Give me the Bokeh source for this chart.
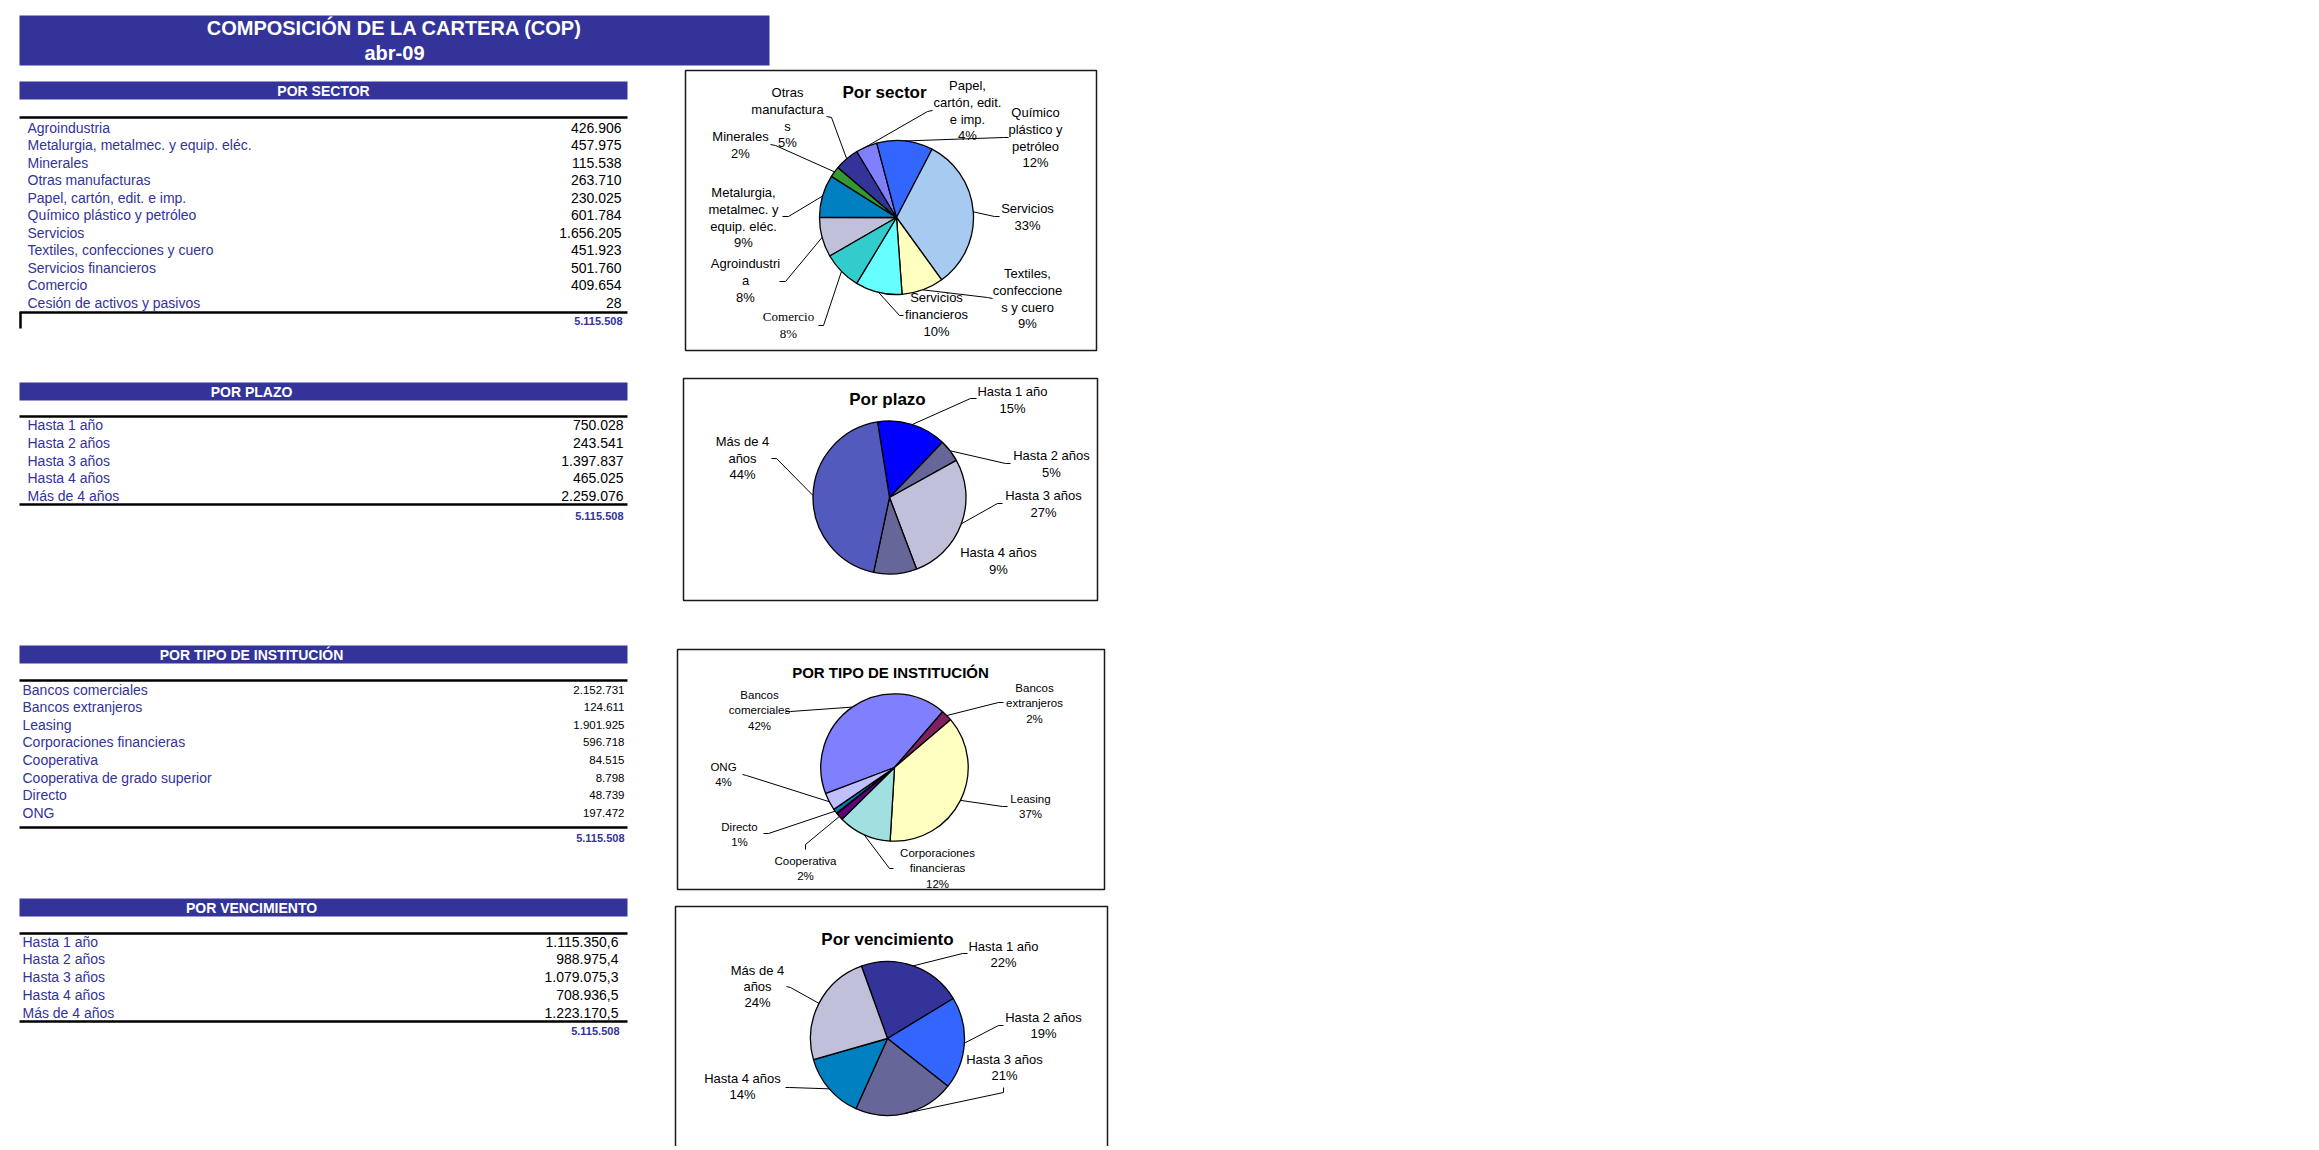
import math
from bokeh.plotting import figure
from bokeh.models import ColumnDataSource, Range1d
from bokeh.core.properties import value
from bokeh.embed import file_html
from bokeh.resources import INLINE

# ---------------- DATA ----------------
title_lines = ["COMPOSICIÓN DE LA CARTERA (COP)", "abr-09"]

sector_header = "POR SECTOR"
sector_names = ["Agroindustria", "Metalurgia, metalmec. y equip. eléc.", "Minerales",
                "Otras manufacturas", "Papel, cartón, edit. e imp.", "Químico plástico y petróleo",
                "Servicios", "Textiles, confecciones y cuero", "Servicios financieros",
                "Comercio", "Cesión de activos y pasivos"]
sector_values = [426906, 457975, 115538, 263710, 230025, 601784, 1656205, 451923, 501760, 409654, 28]
sector_total = 5115508
sector_pie_title = "Por sector"
sector_pie_labels = ["Agroindustri\na", "Metalurgia,\nmetalmec. y\nequip. eléc.", "Minerales",
                     "Otras\nmanufactura\ns", "Papel,\ncartón, edit.\ne imp.", "Químico\nplástico y\npetróleo",
                     "Servicios", "Textiles,\nconfeccione\ns y cuero", "Servicios\nfinancieros", "Comercio"]
sector_pie_pct = [8, 9, 2, 5, 4, 12, 33, 9, 10, 8]
sector_colors = ["#C0C0DA", "#0080C0", "#339933", "#333399", "#8080FF", "#3366FF",
                 "#A6CAF0", "#FFFFC0", "#66FFFF", "#33CCCC"]

plazo_header = "POR PLAZO"
plazo_names = ["Hasta 1 año", "Hasta 2 años", "Hasta 3 años", "Hasta 4 años", "Más de 4 años"]
plazo_values = [750028, 243541, 1397837, 465025, 2259076]
plazo_total = 5115508
plazo_pie_title = "Por plazo"
plazo_pie_labels = ["Hasta 1 año", "Hasta 2 años", "Hasta 3 años", "Hasta 4 años", "Más de 4\naños"]
plazo_pie_pct = [15, 5, 27, 9, 44]
plazo_colors = ["#0000FF", "#666699", "#C0C0DA", "#666699", "#535ABE"]

inst_header = "POR TIPO DE INSTITUCIÓN"
inst_names = ["Bancos comerciales", "Bancos extranjeros", "Leasing", "Corporaciones financieras",
              "Cooperativa", "Cooperativa de grado superior", "Directo", "ONG"]
inst_values = [2152731, 124611, 1901925, 596718, 84515, 8798, 48739, 197472]
inst_total = 5115508
inst_pie_title = "POR TIPO DE INSTITUCIÓN"
inst_pie_labels = ["Bancos\ncomerciales", "Bancos\nextranjeros", "Leasing", "Corporaciones\nfinancieras",
                   "Cooperativa", "", "Directo", "ONG"]
inst_pie_pct = [42, 2, 37, 12, 2, None, 1, 4]
inst_colors = ["#8080FF", "#802060", "#FFFFC0", "#A0E0E0", "#600080", "#FF8080", "#0080C0", "#C0C0FF"]

venc_header = "POR VENCIMIENTO"
venc_names = ["Hasta 1 año", "Hasta 2 años", "Hasta 3 años", "Hasta 4 años", "Más de 4 años"]
venc_values = [1115350.6, 988975.4, 1079075.3, 708936.5, 1223170.5]
venc_total = 5115508
venc_pie_title = "Por vencimiento"
venc_pie_labels = ["Hasta 1 año", "Hasta 2 años", "Hasta 3 años", "Hasta 4 años", "Más de 4\naños"]
venc_pie_pct = [22, 19, 21, 14, 24]
venc_colors = ["#333399", "#3366FF", "#666699", "#0080C0", "#C0C0DA"]

# ---------------- STYLE / LAYOUT ----------------
FONT = "Liberation Sans"
SERIF = "Liberation Serif"
NAVY = "#333399"
W, H = 2300, 1146

p = figure(width=W, height=H, x_range=Range1d(0, W), y_range=Range1d(-H, 0),
           output_backend="svg", toolbar_location=None, min_border=0,
           x_axis_location=None, y_axis_location=None)
p.xgrid.visible = False
p.ygrid.visible = False
p.outline_line_color = None
p.background_fill_color = "white"
p.border_fill_color = "white"


def txt(xs, ys, texts, size, color="black", align="left", bold=False, font=FONT):
    src = ColumnDataSource(dict(x=list(xs), y=[-v for v in ys], t=list(texts)))
    p.text(x="x", y="y", text="t", source=src, text_font=value(font),
           text_font_size=value(f"{size}px"), text_color=color, text_align=align,
           text_baseline="middle", text_font_style="bold" if bold else "normal")


def fmt_int(v):
    return f"{v:,.0f}".replace(",", ".")


def fmt_dec(v):
    return f"{v:,.1f}".replace(",", "X").replace(".", ",").replace("X", ".")


# title bar
p.quad(left=[19], right=[769], top=[-15], bottom=[-65], fill_color=NAVY, line_color=None)
txt([394, 394], [27, 52], title_lines, 20, color="white", align="center", bold=True)

BAR_L, BAR_R = 19, 627


def table(header, header_cx, bar_top, names, values, fmt, rule_top, rule_bot, row_y0, row_dy,
          label_x, num_x, num_size, total, total_x, total_y, left_tick=False):
    p.quad(left=[BAR_L], right=[BAR_R], top=[-bar_top], bottom=[-(bar_top + 18)],
           fill_color=NAVY, line_color=None)
    txt([header_cx], [bar_top + 9], [header], 14, color="white", align="center", bold=True)
    p.segment(x0=[BAR_L, BAR_L], x1=[BAR_R, BAR_R], y0=[-rule_top, -rule_bot],
              y1=[-rule_top, -rule_bot], line_color="black", line_width=2.5)
    if left_tick:
        p.segment(x0=[BAR_L + 1], x1=[BAR_L + 1], y0=[-rule_bot], y1=[-(rule_bot + 16)],
                  line_color="black", line_width=2.5)
    ys = [row_y0 + i * row_dy for i in range(len(names))]
    txt([label_x] * len(names), ys, names, 14, color=NAVY)
    txt([num_x] * len(values), ys, [fmt(v) for v in values], num_size, align="right")
    txt([total_x], [total_y], [fmt_int(total)], 11, color=NAVY, align="right", bold=True)


table(sector_header, 323, 81, sector_names, sector_values, fmt_int, 117, 312, 127, 17.5,
      27, 621, 14, sector_total, 622, 320, left_tick=True)
table(plazo_header, 251, 382, plazo_names, plazo_values, fmt_int, 416, 504, 424.5, 17.8,
      27, 623, 14, plazo_total, 623, 515)
table(inst_header, 251, 645, inst_names, inst_values, fmt_int, 680, 827, 689, 17.6,
      22, 624, 11.5, inst_total, 624, 837)
table(venc_header, 251, 898, venc_names, venc_values, fmt_dec, 933, 1021, 941, 17.8,
      22, 618, 14, venc_total, 619, 1030)


def pie(box, title, title_xy, title_size, cx, cy, r, start, values, colors, labels, pcts,
        layout, size, sp, serif_idx=()):
    l, t, rr, b = box
    p.quad(left=[l], right=[rr], top=[-t], bottom=[-b], fill_color=None,
           line_color="#1a1a1a", line_width=1.5)
    tot = float(sum(values))
    a = start
    st, en, mids = [], [], []
    for v in values:
        span = v / tot * 360.0
        st.append(math.radians(90 - (a + span)))
        en.append(math.radians(90 - a))
        mids.append(a + span / 2)
        a += span
    src = ColumnDataSource(dict(x=[cx] * len(values), y=[-cy] * len(values), s=st, e=en, c=colors))
    p.wedge(x="x", y="y", radius=r, start_angle="s", end_angle="e", fill_color="c",
            line_color="black", line_width=1.3, source=src)
    txt([title_xy[0]], [title_xy[1]], [title], title_size, bold=True, align="center")
    for i, lab in enumerate(labels):
        if pcts[i] is None or layout[i] is None:
            continue
        lx, ly0, stub = layout[i]
        lines = lab.split("\n") + [f"{pcts[i]}%"]
        font = SERIF if i in serif_idx else FONT
        txt([lx] * len(lines), [ly0 + k * sp for k in range(len(lines))], lines, size,
            align="center", font=font)
        if stub is not None:
            sx, sy, ex, ey = stub
            m = math.radians(mids[i])
            px = cx + r * math.sin(m)
            py = cy - r * math.cos(m)
            p.line(x=[sx, ex, px], y=[-sy, -ey, -py], line_color="black", line_width=1)


sector_layout = [
    (745, 263, (779, 281, 785, 281)),
    (743, 192, (782, 216, 788, 216)),
    (740, 136, (770, 144, 775, 145)),
    (787, 92, (826, 116, 831, 117)),
    (967, 85, (932, 110, 927, 111)),
    (1035, 112, (1008, 137, 1003, 137)),
    (1027, 208, (999, 216, 994, 216)),
    (1027, 273, (992, 298, 987, 297)),
    (936, 297, (903, 315, 899, 315)),
    (788, 316, (818, 325, 823, 325)),
]
pie((685, 70, 1096, 350), sector_pie_title, (884, 92), 17, 896, 217, 77, 240,
    sector_values[:10], sector_colors, sector_pie_labels, sector_pie_pct, sector_layout, 13, 16.8,
    serif_idx=(9,))

plazo_layout = [
    (1012, 391, (976, 398, 970, 398)),
    (1051, 455, (1010, 463, 1005, 463)),
    (1043, 495, (1002, 503, 997, 503)),
    (998, 552, None),
    (742, 441, (771, 458, 776, 458)),
]
pie((683, 378, 1097, 600), plazo_pie_title, (887, 399), 17, 889, 497, 76.5, 351,
    plazo_values, plazo_colors, plazo_pie_labels, plazo_pie_pct, plazo_layout, 13, 16.5)

inst_layout = [
    (759, 694, (785, 711, 790, 711)),
    (1034, 687, (1003, 702, 998, 702)),
    (1030, 798, (1007, 806, 1002, 806)),
    (937, 852, (893, 868, 889, 868)),
    (805, 860, (805, 849, 805, 844)),
    None,
    (739, 826, (763, 833, 768, 833)),
    (723, 766, (742, 774, 746, 775)),
]
pie((677, 649, 1104, 889), inst_pie_title, (890, 672), 15, 894, 767, 73.7, 249.3,
    inst_values, inst_colors, inst_pie_labels, inst_pie_pct, inst_layout, 11.5, 15.5)

venc_layout = [
    (1003, 946, (967, 953, 962, 953)),
    (1043, 1017, (1003, 1025, 998, 1025)),
    (1004, 1059, (1003, 1087, 1003, 1092)),
    (742, 1078, (785, 1087, 789, 1087)),
    (757, 970, (786, 986, 790, 987)),
]
pie((675, 906, 1107, 1220), venc_pie_title, (887, 939), 17, 887, 1038, 77, 340.2,
    venc_values, venc_colors, venc_pie_labels, venc_pie_pct, venc_layout, 13, 16)

open("out.html", "w").write(file_html(p, INLINE))
